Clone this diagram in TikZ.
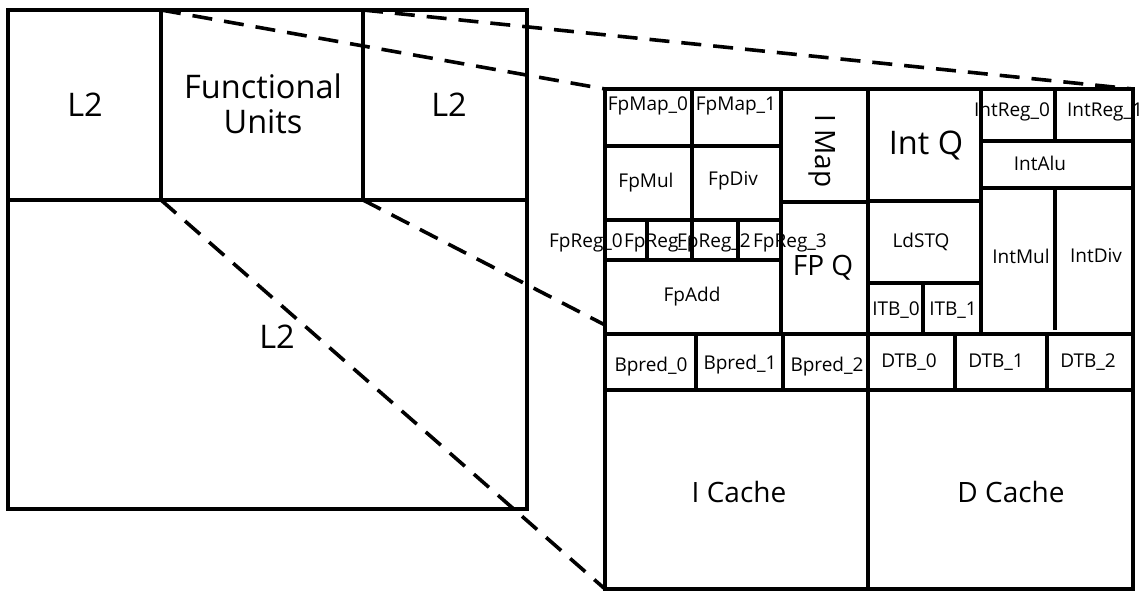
\documentclass[tikz,border=0pt]{standalone}
\usepackage{fontspec}
\setmainfont{Open Sans}
\begin{document}
\begin{tikzpicture}[x=1pt,y=-1pt,
  wall/.style={line width=4.2pt},
  part/.style={line width=3.8pt},
  zoomline/.style={line width=3.6pt, dash pattern=on 20pt off 12pt},
  big/.style={font=\fontsize{32.5}{37}\selectfont, inner sep=0pt},
  mid/.style={font=\fontsize{28}{32}\selectfont, inner sep=0pt},
  small/.style={font=\fontsize{19}{22}\selectfont, inner sep=0pt}]
\useasboundingbox (0,0) rectangle (1145,592);

% corner coordinates
\coordinate (La) at (161,10);
\coordinate (Lb) at (363,10);
\coordinate (Lc) at (161,200);
\coordinate (Ld) at (363,200);
\coordinate (Rtl) at (605,89);
\coordinate (Rtr) at (1133,89);
\coordinate (Rbl) at (605,589);
\coordinate (Rml) at (605,325);

% zoom lines
\draw[zoomline] (La) -- (Rtl);
\draw[zoomline] (Lb) -- (Rtr);
\draw[zoomline] (Lc) -- (Rbl);
\draw[zoomline] (Ld) -- (Rml);

% left chip
\draw[wall] (8,10) rectangle (527,509);
\draw[wall] (8,200) -- (527,200);
\draw[wall] (La) -- (Lc);
\draw[wall] (Lb) -- (Ld);

% right chip
\draw[wall] (Rtl) rectangle (1133,589);
\draw[part] (605,146) -- (781,146);
\draw[part] (605,220) -- (781,220);
\draw[part] (605,260) -- (781,260);
\draw[part] (781,202) -- (868,202);
\draw[part] (868,201) -- (981,201);
\draw[part] (868,283) -- (981,283);
\draw[part] (981,141) -- (1133,141);
\draw[part] (981,188) -- (1133,188);
\draw[part] (605,334) -- (1133,334);
\draw[part] (605,390) -- (1133,390);
\draw[part] (692,89) -- (692,260);
\draw[part] (647,220) -- (647,260);
\draw[part] (738,220) -- (738,260);
\draw[part] (781,89) -- (781,334);
\draw[part] (868,89) -- (868,589);
\draw[part] (981,89) -- (981,334);
\draw[part] (923,283) -- (923,334);
\draw[part] (1055,89) -- (1055,141);
\draw[part] (1055,188) -- (1055,330);
\draw[part] (696,334) -- (696,390);
\draw[part] (783,334) -- (783,390);
\draw[part] (955,334) -- (955,390);
\draw[part] (1047,334) -- (1047,390);

% left chip labels
\node[big] (l2a) at (85,105) {L2};
\node[big, align=center] (fu) at (263,104) {Functional\\[-2pt]Units};
\node[big] (l2b) at (449,105) {L2};
\node[big] (l2c) at (277,337) {L2};

% right chip labels
\node[small] (fpmap0) at (648,106) {FpMap\_0};
\node[small] (fpmap1) at (736,106) {FpMap\_1};
\node[small] (fpmul) at (646,183) {FpMul};
\node[small] (fpdiv) at (733,181) {FpDiv};
\node[small] (fpreg0) at (586,243) {FpReg\_0};
\node[small] (fpreg1) at (661,243) {FpReg\_1};
\node[small] (fpreg2) at (714,243) {FpReg\_2};
\node[small] (fpreg3) at (790,243) {FpReg\_3};
\node[small] (fpadd) at (692,297) {FpAdd};
\node[mid, rotate=-90] (imap) at (822,151) {I Map};
\node[mid] (fpq) at (823,268) {FP Q};
\node[big] (intq) at (926,145) {Int Q};
\node[small] (ldstq) at (921,242) {LdSTQ};
\node[small] (itb0) at (896,310) {ITB\_0};
\node[small] (itb1) at (953,310) {ITB\_1};
\node[small] (intreg0) at (1012,112) {IntReg\_0};
\node[small] (intreg1) at (1105,112) {IntReg\_1};
\node[small] (intalu) at (1040,163) {IntAlu};
\node[small] (intmul) at (1021,256) {IntMul};
\node[small] (intdiv) at (1096,256) {IntDiv};
\node[small] (bpred0) at (651,367) {Bpred\_0};
\node[small] (bpred1) at (740,365) {Bpred\_1};
\node[small] (bpred2) at (827,367) {Bpred\_2};
\node[small] (dtb0) at (909,362) {DTB\_0};
\node[small] (dtb1) at (996,362) {DTB\_1};
\node[small] (dtb2) at (1088,362) {DTB\_2};
\node[mid] (icache) at (739,492) {I Cache};
\node[mid] (dcache) at (1011,492) {D Cache};
\end{tikzpicture}
\end{document}
